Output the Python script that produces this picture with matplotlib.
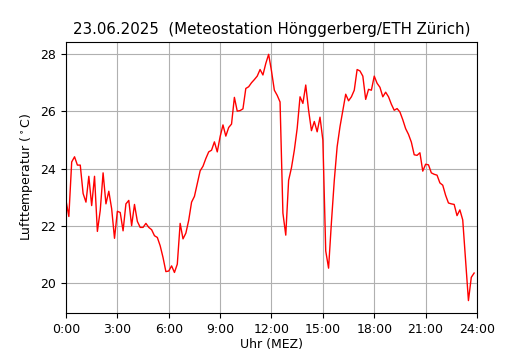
import matplotlib
matplotlib.use("Agg")
import matplotlib.pyplot as plt
import numpy as np

# 10-Minuten-Werte, 0:00 bis 23:50
temp_night = [22.89, 22.33, 24.23, 24.41, 24.12, 24.12, 23.13, 22.83, 23.73, 22.71,
              23.73, 21.81, 22.54, 23.85, 22.77, 23.21, 22.6, 21.57, 22.51, 22.47,
              21.83, 22.77, 22.89, 22.01, 22.75, 22.16, 21.95, 21.95, 22.09, 21.95,
              21.87, 21.66, 21.6, 21.31, 20.9, 20.41, 20.43, 20.61, 20.38, 20.67,
              22.09, 21.55, 21.75, 22.2]
temp_morning = [22.83, 23.03, 23.47, 23.92, 24.08, 24.35, 24.58, 24.64, 24.93, 24.58,
                25.11, 25.52, 25.13, 25.43, 25.55, 26.48, 26.0, 26.02, 26.08, 26.79,
                26.85, 26.99, 27.1, 27.22, 27.45, 27.26, 27.66, 27.98]
temp_noon = [27.4, 26.73, 26.55, 26.32]
temp_afternoon = [22.45, 21.68, 23.59, 24.03, 24.64, 25.4, 26.5, 26.27, 26.91, 26.03,
                  25.32, 25.64, 25.28, 25.79, 24.99, 21.13, 20.53, 22.13, 23.59, 24.76,
                  25.46, 26.03, 26.59, 26.36, 26.5, 26.73, 27.45, 27.4, 27.22, 26.41,
                  26.76, 26.73]
temp_evening = [27.22, 26.97, 26.83, 26.5, 26.66, 26.5, 26.24, 26.03, 26.09, 25.97,
                25.7, 25.39, 25.19, 24.92, 24.48, 24.46, 24.55, 23.91, 24.15, 24.13,
                23.85, 23.8, 23.77, 23.5, 23.42, 23.07, 22.8, 22.77, 22.75, 22.36,
                22.56, 22.21, 20.78, 19.4, 20.21, 20.36]

temps = temp_night + temp_morning + temp_noon + temp_afternoon + temp_evening
hours = np.arange(len(temps)) / 6.0

tick_hours = [0, 3, 6, 9, 12, 15, 18, 21, 24]
tick_labels = ["0:00", "3:00", "6:00", "9:00", "12:00", "15:00", "18:00", "21:00", "24:00"]

fig = plt.figure(figsize=(5.3, 3.5), dpi=100)
ax = fig.add_axes([0.1245, 0.106, 0.7755, 0.774])
ax.plot(hours, temps, color="red", linewidth=1)
ax.set_xlim(0, 24)
ax.set_xticks(tick_hours)
ax.set_xticklabels(tick_labels)
ax.tick_params(labelsize=9)
ax.grid(True)
ax.set_xlabel("Uhr (MEZ)", fontsize=9, labelpad=2)
ax.set_ylabel(r"Lufttemperatur ($^\circ$C)", fontsize=9)
ax.set_title("23.06.2025  (Meteostation Hönggerberg/ETH Zürich)", fontsize=10.8)

fig.savefig("out.png", dpi=100)
